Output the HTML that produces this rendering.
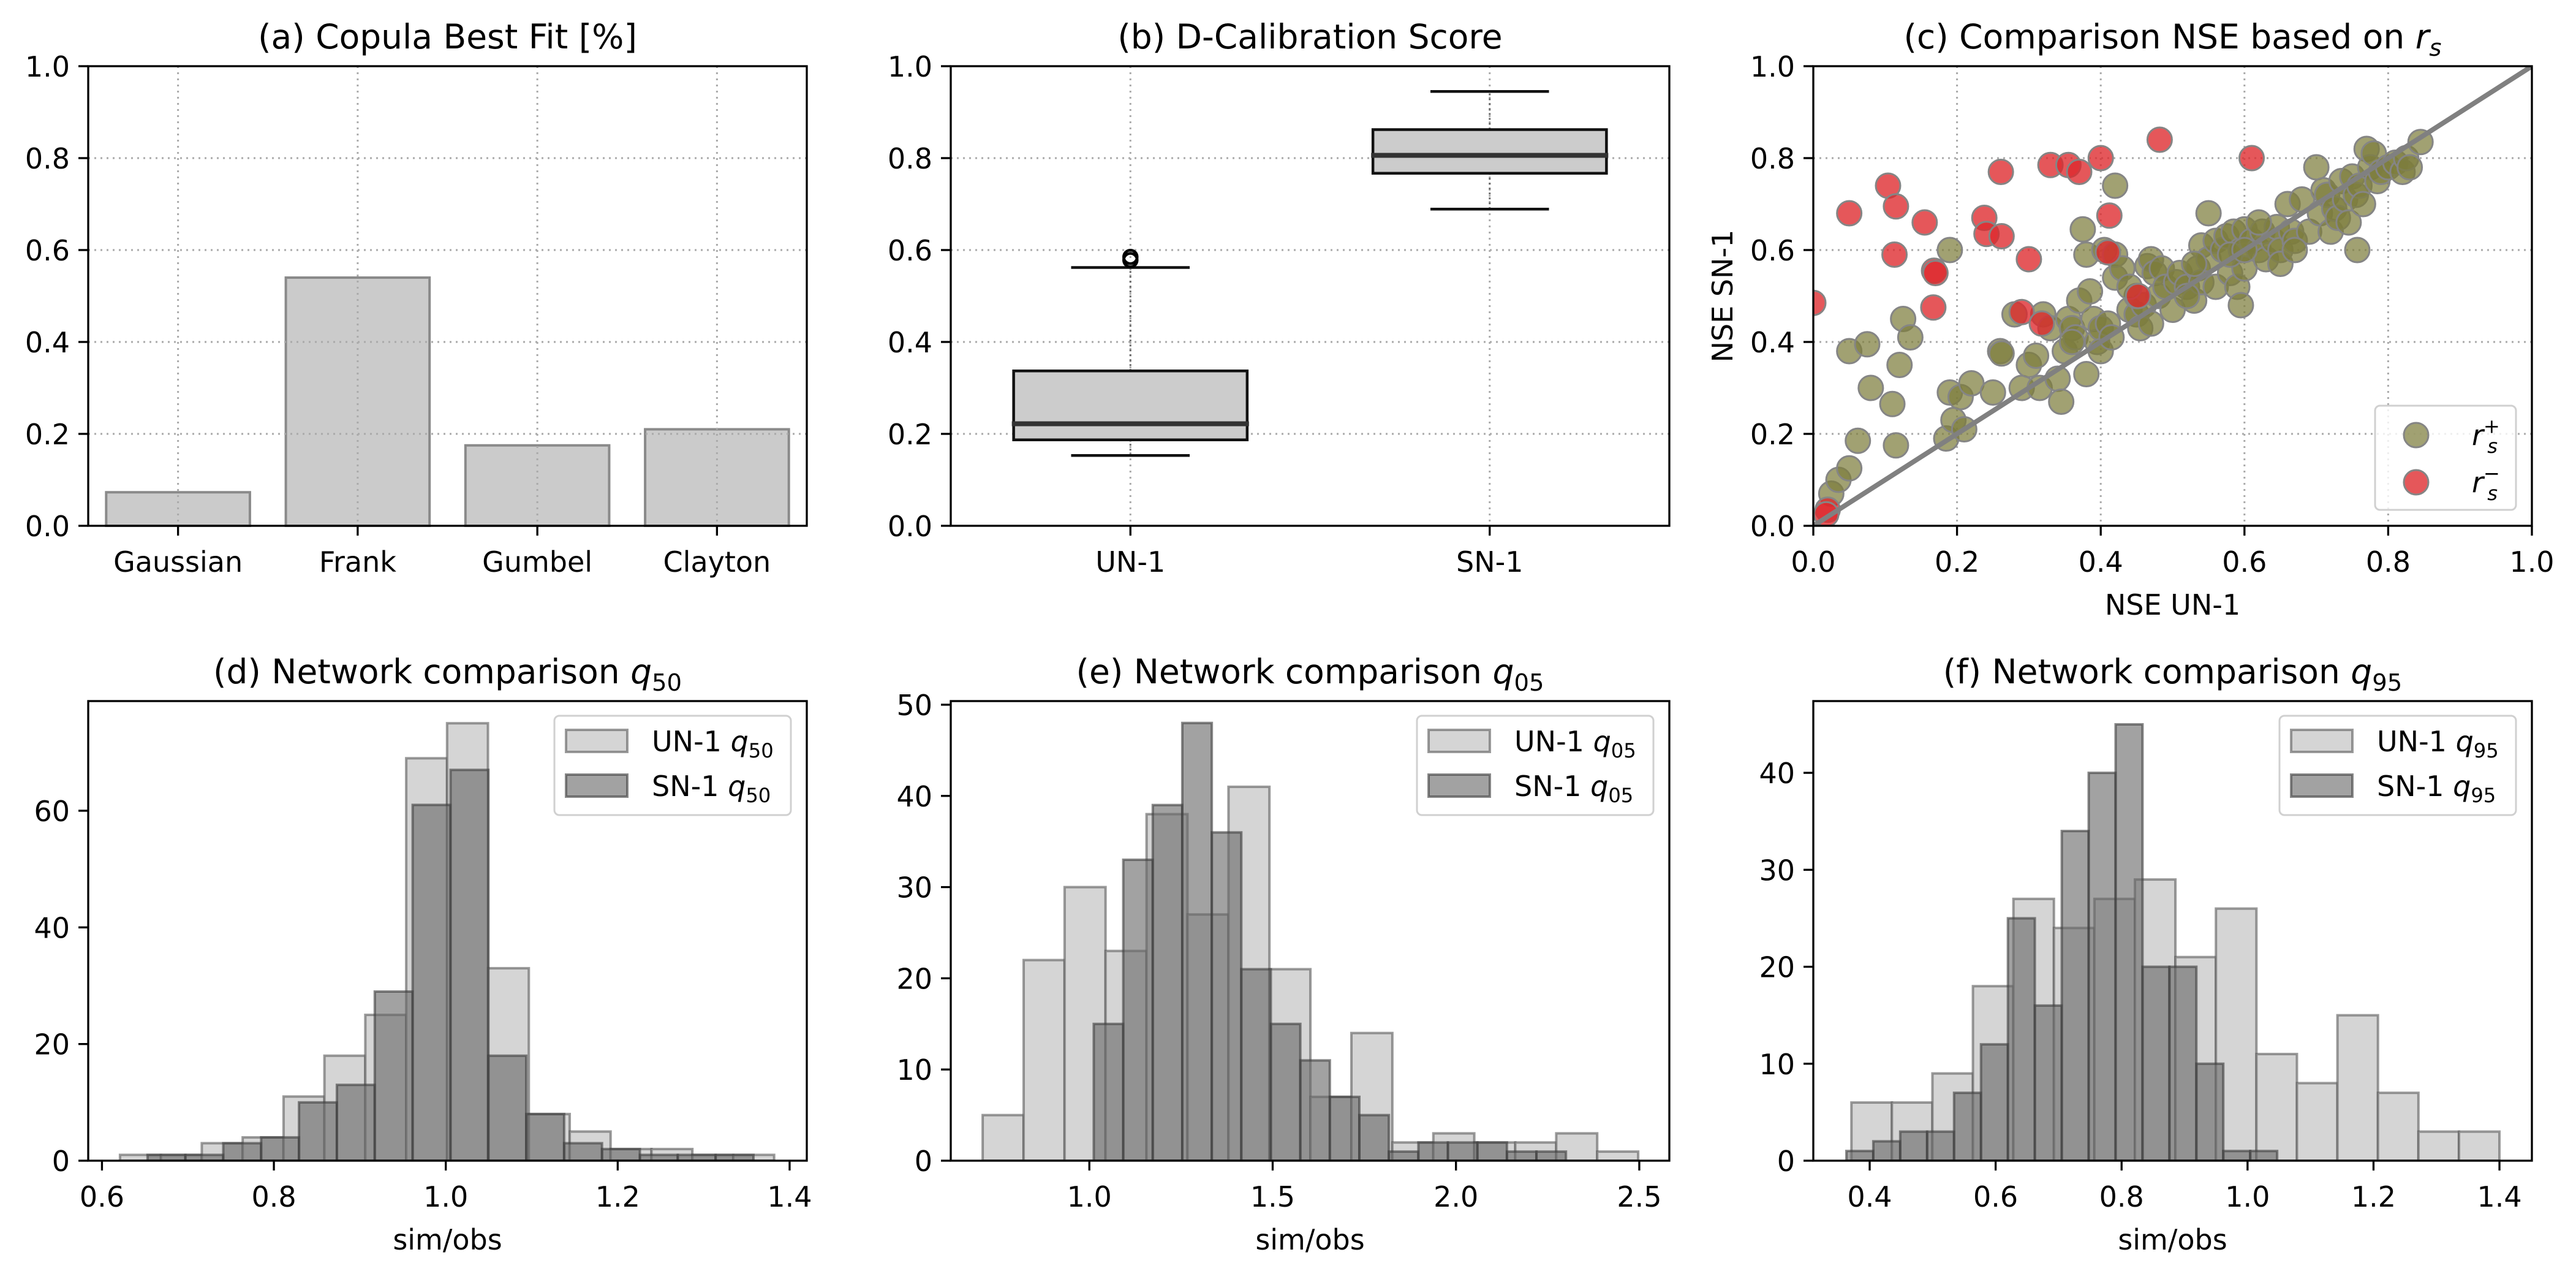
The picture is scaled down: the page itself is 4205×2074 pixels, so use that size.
<!DOCTYPE html>
<html><head><meta charset="utf-8"><style>
html,body{margin:0;padding:0;background:#fff;}
svg{display:block;font-family:"DejaVu Sans","Liberation Sans",sans-serif;}
</style></head><body>
<svg id="fig" width="4205" height="2074" viewBox="0 0 4205 2074" xmlns="http://www.w3.org/2000/svg"></svg>
<script>
// ---------- data ----------
const copulaCats = ["Gaussian","Frank","Gumbel","Clayton"];
const copulaVals = [0.073,0.54,0.175,0.21];
const boxLabels = ["UN-1","SN-1"];
const unStats = [0.153,0.187,0.222,0.337,0.562];
const snStats = [0.689,0.767,0.806,0.862,0.945];
const unOutliers = [0.578,0.585];
const nsePosX = [0.025,0.035,0.05,0.062,0.05,0.075,0.08,0.11,0.115,0.12,0.125,0.135,0.19,0.185,0.19,0.195,0.205,0.21,0.22,0.25,0.26,0.262,0.28,0.29,0.30,0.31,0.315,0.32,0.33,0.34,0.345,0.35,0.355,0.36,0.365,0.37,0.375,0.38,0.38,0.385,0.39,0.395,0.40,0.40,0.405,0.41,0.415,0.42,0.42,0.42,0.43,0.44,0.45,0.455,0.46,0.465,0.47,0.475,0.47,0.48,0.485,0.49,0.50,0.505,0.51,0.52,0.53,0.535,0.54,0.54,0.55,0.55,0.56,0.56,0.57,0.575,0.58,0.585,0.59,0.595,0.595,0.60,0.60,0.61,0.62,0.625,0.63,0.64,0.645,0.65,0.65,0.66,0.665,0.67,0.68,0.69,0.70,0.705,0.71,0.715,0.72,0.725,0.73,0.735,0.74,0.745,0.75,0.755,0.76,0.765,0.757,0.77,0.775,0.78,0.785,0.79,0.80,0.81,0.82,0.825,0.83,0.845,0.53,0.52,0.62,0.67,0.45,0.36,0.44,0.58,0.60];
const nsePosY = [0.07,0.10,0.125,0.185,0.38,0.395,0.30,0.265,0.175,0.35,0.45,0.41,0.60,0.19,0.29,0.23,0.28,0.21,0.31,0.29,0.38,0.375,0.46,0.30,0.35,0.37,0.30,0.46,0.43,0.32,0.27,0.38,0.45,0.43,0.41,0.49,0.645,0.59,0.33,0.51,0.45,0.40,0.43,0.38,0.60,0.44,0.41,0.54,0.59,0.74,0.56,0.47,0.46,0.43,0.48,0.565,0.58,0.55,0.44,0.50,0.56,0.52,0.47,0.53,0.55,0.52,0.49,0.56,0.53,0.61,0.58,0.68,0.62,0.52,0.60,0.63,0.55,0.64,0.52,0.60,0.48,0.645,0.56,0.62,0.60,0.64,0.58,0.62,0.65,0.60,0.57,0.70,0.64,0.62,0.71,0.64,0.78,0.68,0.73,0.72,0.64,0.69,0.67,0.75,0.71,0.66,0.76,0.72,0.74,0.70,0.60,0.82,0.78,0.81,0.75,0.77,0.78,0.79,0.77,0.80,0.78,0.835,0.57,0.50,0.66,0.60,0.50,0.40,0.52,0.59,0.60];
const nseNegX = [0.0,0.02,0.018,0.05,0.104,0.115,0.113,0.155,0.168,0.17,0.167,0.238,0.241,0.262,0.261,0.30,0.29,0.318,0.33,0.355,0.37,0.40,0.412,0.41,0.452,0.482,0.61];
const nseNegY = [0.485,0.035,0.025,0.68,0.74,0.695,0.59,0.66,0.555,0.55,0.475,0.67,0.635,0.63,0.77,0.58,0.465,0.44,0.785,0.785,0.77,0.80,0.675,0.595,0.50,0.84,0.80];
const q50UnCounts = [1,1,3,4,11,18,25,69,75,33,8,5,2,2,1,1];
const q50UnRange = [0.621,1.382];
const q50SnCounts = [1,1,3,4,10,13,29,61,67,18,8,3,2,1,1,1];
const q50SnRange = [0.653,1.358];
const q05UnCounts = [5,22,30,23,38,27,41,21,7,14,2,3,2,2,3,1];
const q05UnRange = [0.709,2.497];
const q05SnCounts = [15,33,39,48,36,21,15,11,7,5,1,2,2,2,1,1];
const q05SnRange = [1.012,2.30];
const q95UnCounts = [6,6,9,18,27,24,27,29,21,26,11,8,15,7,3,3];
const q95UnRange = [0.371,1.40];
const q95SnCounts = [1,2,3,3,7,12,25,16,34,40,45,20,20,10,1,1];
const q95SnRange = [0.363,1.047];
const unitTicks = ["0.0","0.2","0.4","0.6","0.8","1.0"];
const q50XTicks = ["0.6","0.8","1.0","1.2","1.4"];
const q50YTicks = ["0","20","40","60"];
const q05XTicks = ["1.0","1.5","2.0","2.5"];
const q05YTicks = ["0","10","20","30","40","50"];
const q95XTicks = ["0.4","0.6","0.8","1.0","1.2","1.4"];
const q95YTicks = ["0","10","20","30","40"];

// ---------- helpers ----------
const NS="http://www.w3.org/2000/svg";
const svg=document.getElementById('fig');
function mk(tag,attrs,parent){const e=document.createElementNS(NS,tag);for(const k in attrs)e.setAttribute(k,attrs[k]);(parent||svg).appendChild(e);return e;}
function scale(d0,d1,p0,p1){return v=>p0+(v-d0)/(d1-d0)*(p1-p0);}
const FS=46, TFS=55;
const GREEN='rgba(125,125,60,0.72)', RED='rgba(222,40,44,0.78)';
function txt(parent,x,y,s,anchor,size){const t=mk('text',{x:x,y:y,'font-size':size||FS,'text-anchor':anchor||'middle',fill:'#000'},parent);t.textContent=s;return t;}
function mathLabel(parent,x,y,base,prefix,sub,sup,size,anchor,subItalic){
  const t=mk('text',{x:x,y:y,'font-size':size,'text-anchor':anchor||'start',fill:'#000'},parent);
  if(prefix){const a=mk('tspan',{},t);a.textContent=prefix;}
  const b=mk('tspan',{'font-style':'italic'},t);b.textContent=base;
  const fst=subItalic?'italic':'normal';
  if(sup){const c=mk('tspan',{'font-size':size*0.7,dy:-size*0.42},t);c.textContent=sup;
    const d=mk('tspan',{'font-size':size*0.7,'font-style':fst,dx:-size*0.45,dy:size*0.7},t);d.textContent=sub;}
  else{const c=mk('tspan',{'font-size':size*0.7,'font-style':fst,dy:size*0.22},t);c.textContent=sub;}
  return t;
}
function frame(g,P){
  const r=mk('rect',{x:P.x0,y:P.y0,width:P.x1-P.x0,height:P.y1-P.y0,fill:'none',stroke:'#000','stroke-width':3.3},g);
  
  
}
function xTicks(g,P,vals,labels,sx){
  vals.forEach((v,i)=>{const x=sx(v);
    const l=mk('line',{x1:x,y1:P.y1,x2:x,y2:P.y1+16,stroke:'#000','stroke-width':3.3},g);
    
    
    const t=txt(g,x,P.y1+75,labels[i]);
    
    
  });
}
function yTicks(g,P,vals,labels,sy){
  vals.forEach((v,i)=>{const y=sy(v);
    const l=mk('line',{x1:P.x0-16,y1:y,x2:P.x0,y2:y,stroke:'#000','stroke-width':3.3},g);
    
    
    const t=txt(g,P.x0-30,y+17,labels[i],'end');
    
    
  });
}
function grid(g,P,xs,ys){
  xs.forEach(x=>{const l=mk('line',{x1:x,y1:P.y0,x2:x,y2:P.y1,stroke:'#aaa','stroke-width':3,'stroke-dasharray':'3,7'},g);
    
    });
  ys.forEach(y=>{const l=mk('line',{x1:P.x0,y1:y,x2:P.x1,y2:y,stroke:'#aaa','stroke-width':3,'stroke-dasharray':'3,7'},g);
    
    });
}
function title(g,P,s){const t=txt(g,(P.x0+P.x1)/2,P.y0-29,s,'middle',TFS);
  
  return t;}

const PA={x0:144,x1:1317,y0:108,y1:858}, PB={x0:1552,x1:2725,y0:108,y1:858}, PC={x0:2960,x1:4133,y0:108,y1:858};
const PD={x0:144,x1:1317,y0:1144,y1:1894}, PE={x0:1552,x1:2725,y0:1144,y1:1894}, PF={x0:2960,x1:4133,y0:1144,y1:1894};
const unitVals=unitTicks.map(Number);

// ---------- (a) ----------
{const g=mk('g',{});
 
 
 const sx=scale(-0.5,3.5,PA.x0,PA.x1), sy=scale(0,1,PA.y1,PA.y0);
 copulaVals.forEach((v,i)=>{const b=mk('rect',{x:sx(i-0.4),y:sy(v),width:sx(0.8)-sx(0),height:sy(0)-sy(v),fill:'#cbcbcb',stroke:'#8a8a8a','stroke-width':4},g);
   
   });
 grid(g,PA,copulaCats.map((c,i)=>sx(i)),[0.2,0.4,0.6,0.8].map(sy));
 frame(g,PA);
 xTicks(g,PA,copulaCats.map((c,i)=>i),copulaCats,sx);
 yTicks(g,PA,unitVals,unitTicks,sy);
 title(g,PA,'(a) Copula Best Fit [%]');}

// ---------- (b) ----------
{const g=mk('g',{});
 
 
 const sx=scale(0.5,2.5,PB.x0,PB.x1), sy=scale(0,1,PB.y1,PB.y0);
 grid(g,PB,[sx(1),sx(2)],[0.2,0.4,0.6,0.8].map(sy));
 [unStats,snStats].forEach((s,i)=>{const c=i+1;
   const w1=mk('line',{x1:sx(c),y1:sy(s[0]),x2:sx(c),y2:sy(s[1]),stroke:'#666','stroke-width':3,'stroke-dasharray':'3,5'},g);
   
   
   const w2=mk('line',{x1:sx(c),y1:sy(s[3]),x2:sx(c),y2:sy(s[4]),stroke:'#666','stroke-width':3,'stroke-dasharray':'3,5'},g);
   
   
   [s[0],s[4]].forEach(v=>{const cp=mk('line',{x1:sx(c-0.165),y1:sy(v),x2:sx(c+0.165),y2:sy(v),stroke:'#111','stroke-width':4.5},g);
     
     });
   const b=mk('rect',{x:sx(c-0.325),y:sy(s[3]),width:sx(0.65)-sx(0),height:sy(s[1])-sy(s[3]),fill:'#cccccc',stroke:'#111','stroke-width':4.5},g);
   
   
   const m=mk('line',{x1:sx(c-0.33),y1:sy(s[2]),x2:sx(c+0.33),y2:sy(s[2]),stroke:'#333','stroke-width':8},g);
   
   });
 unOutliers.forEach(v=>{const o=mk('circle',{cx:sx(1),cy:sy(v),r:11,fill:'none',stroke:'#000','stroke-width':4.5},g);
   
   });
 frame(g,PB);
 xTicks(g,PB,[1,2],boxLabels,sx);
 yTicks(g,PB,unitVals,unitTicks,sy);
 title(g,PB,'(b) D-Calibration Score');}

// ---------- (c) ----------
{const g=mk('g',{});
 
 
 const sx=scale(0,1,PC.x0,PC.x1), sy=scale(0,1,PC.y1,PC.y0);
 grid(g,PC,[0.2,0.4,0.6,0.8].map(sx),[0.2,0.4,0.6,0.8].map(sy));
 const cp=mk('clipPath',{id:'clipc'},g);mk('rect',{x:PC.x0,y:PC.y0,width:PC.x1-PC.x0,height:PC.y1-PC.y0},cp);
 const pg=mk('g',{'clip-path':'url(#clipc)'},g);
 nsePosX.forEach((x,i)=>{const c=mk('circle',{cx:sx(x),cy:sy(nsePosY[i]),r:20,fill:GREEN,stroke:'#858585','stroke-width':3},pg);
   
   });
 nseNegX.forEach((x,i)=>{const c=mk('circle',{cx:sx(x),cy:sy(nseNegY[i]),r:20,fill:RED,stroke:'#858585','stroke-width':3},pg);
   
   });
 const d=mk('line',{x1:sx(0),y1:sy(0),x2:sx(1),y2:sy(1),stroke:'#808080','stroke-width':8},pg);
 
 
 const lg=mk('g',{},g);
 
 
 mk('rect',{x:3877,y:662,width:230,height:170,rx:8,fill:'rgba(255,255,255,0.8)',stroke:'#d0d0d0','stroke-width':3},lg);
 const m1=mk('circle',{cx:3944,cy:710,r:20,fill:GREEN,stroke:'#858585','stroke-width':3},lg);
 
 
 const m2=mk('circle',{cx:3944,cy:787,r:20,fill:RED,stroke:'#858585','stroke-width':3},lg);
 
 
 const l1=mathLabel(lg,4035,726,'r','','s','+',FS,'start',true);
 
 
 const l2=mathLabel(lg,4035,803,'r','','s','\u2212',FS,'start',true);
 
 
 frame(g,PC);
 xTicks(g,PC,unitVals,unitTicks,sx);
 yTicks(g,PC,unitVals,unitTicks,sy);
 const t=mathLabel(g,(PC.x0+PC.x1)/2,PC.y0-29,'r','(c) Comparison NSE based on ','s',null,TFS,'middle',true);
 
 
 const xl=txt(g,(PC.x0+PC.x1)/2,PC.y1+145,'NSE UN-1');
 
 
 const yl=txt(g,0,0,'NSE SN-1');
 yl.setAttribute('transform','translate(2828,483) rotate(-90)');
 
 }

// ---------- histograms ----------
function hist(P,name,xr,yr,xT,yT,unC,unR,snC,snR,qsub,ttl){
  const g=mk('g',{});
  
  
  const sx=scale(xr[0],xr[1],P.x0,P.x1), sy=scale(0,yr,P.y1,P.y0);
  const cp=mk('clipPath',{id:'clip'+name},g);mk('rect',{x:P.x0,y:P.y0,width:P.x1-P.x0,height:P.y1-P.y0},cp);
  const hg=mk('g',{'clip-path':'url(#clip'+name+')'},g);
  const wu=(unR[1]-unR[0])/unC.length;
  unC.forEach((c,i)=>{const a=unR[0]+i*wu;
    const b=mk('rect',{x:sx(a),y:sy(c),width:sx(a+wu)-sx(a),height:sy(0)-sy(c),fill:'#d5d5d5',stroke:'rgba(90,90,90,0.6)','stroke-width':4},hg);
    
    });
  const ws=(snR[1]-snR[0])/snC.length;
  snC.forEach((c,i)=>{const a=snR[0]+i*ws;
    const b=mk('rect',{x:sx(a),y:sy(c),width:sx(a+ws)-sx(a),height:sy(0)-sy(c),fill:'rgba(105,105,105,0.62)',stroke:'rgba(60,60,60,0.6)','stroke-width':4},hg);
    
    });
  frame(g,P);
  xTicks(g,P,xT.map(Number),xT,sx);
  yTicks(g,P,yT.map(Number),yT,sy);
  const lx=P.x0+761, ly=P.y0+24;
  const lg=mk('g',{},g);
  
  
  mk('rect',{x:lx,y:ly,width:386,height:162,rx:8,fill:'rgba(255,255,255,0.8)',stroke:'#d0d0d0','stroke-width':3},lg);
  const p1=mk('rect',{x:lx+19,y:ly+23,width:100,height:36,fill:'#d5d5d5',stroke:'rgba(90,90,90,0.6)','stroke-width':4},lg);
  
  
  const p2=mk('rect',{x:lx+19,y:ly+96,width:100,height:36,fill:'rgba(105,105,105,0.62)',stroke:'rgba(60,60,60,0.6)','stroke-width':4},lg);
  
  
  const e1=mathLabel(lg,lx+159,ly+58,'q','UN-1 ',qsub,null,FS,'start');
  
  
  const e2=mathLabel(lg,lx+159,ly+131,'q','SN-1 ',qsub,null,FS,'start');
  
  
  const t=mathLabel(g,(P.x0+P.x1)/2,P.y0-29,'q',ttl,qsub,null,TFS,'middle');
  
  
  const xl=txt(g,(P.x0+P.x1)/2,P.y1+145,'sim/obs');
  
  
}
hist(PD,'panel-d-q50',[0.584,1.42],78.8,q50XTicks,q50YTicks,q50UnCounts,q50UnRange,q50SnCounts,q50SnRange,'50','(d) Network comparison ');
hist(PE,'panel-e-q05',[0.622,2.582],50.4,q05XTicks,q05YTicks,q05UnCounts,q05UnRange,q05SnCounts,q05SnRange,'05','(e) Network comparison ');
hist(PF,'panel-f-q95',[0.3105,1.4515],47.4,q95XTicks,q95YTicks,q95UnCounts,q95UnRange,q95SnCounts,q95SnRange,'95','(f) Network comparison ');
</script>
</body></html>
